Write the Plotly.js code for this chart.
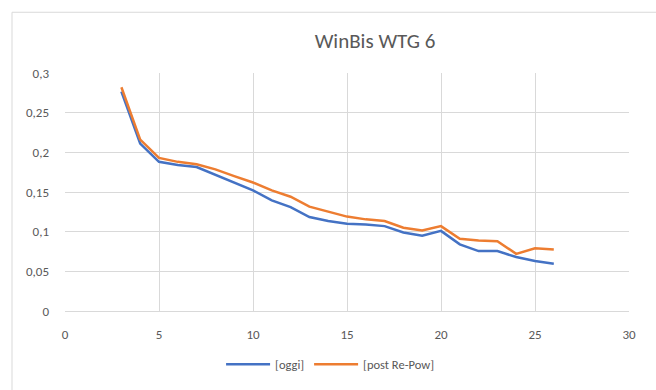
<!DOCTYPE html>
<html>
<head>
<meta charset="utf-8">
<script src="https://cdn.plot.ly/plotly-3.0.1.min.js"></script>
<style>html,body{margin:0;padding:0;background:#fff;}#chart{width:656px;height:390px;}</style>
</head>
<body>
<div id="chart"></div>
<script>
const windSpeed = [3,4,5,6,7,8,9,10,11,12,13,14,15,16,17,18,19,20,21,22,23,24,25,26];
const oggi = [0.2765,0.211,0.188,0.184,0.1815,0.172,0.162,0.152,0.1395,0.131,0.1185,0.1135,0.110,0.109,0.107,0.099,0.095,0.101,0.084,0.0755,0.0755,0.068,0.063,0.0595];
const postRePow = [0.282,0.216,0.193,0.188,0.185,0.1785,0.170,0.162,0.152,0.144,0.1315,0.125,0.119,0.1155,0.1135,0.105,0.1015,0.107,0.091,0.089,0.088,0.072,0.079,0.0775];
const seriesNames = ['[oggi]', '[post Re-Pow]'];
const xTicks = [0,5,10,15,20,25,30];
const yTicks = [0,0.05,0.1,0.15,0.2,0.25,0.3];
const yTickText = ['0','0,05','0,1','0,15','0,2','0,25','0,3'];

const font = 'Carlito, Lato, "Open Sans", sans-serif';
const traces = [
  {x: windSpeed, y: oggi, name: seriesNames[0], mode: 'lines', line: {color: '#4472C4', width: 2.5}},
  {x: windSpeed, y: postRePow, name: seriesNames[1], mode: 'lines', line: {color: '#ED7D31', width: 2.5}}
];
const layout = {
  width: 656, height: 390,
  margin: {l: 65, r: 27, t: 73, b: 78},
  paper_bgcolor: '#fff', plot_bgcolor: '#fff',
  separators: ',.',
  title: {text: 'WinBis WTG 6', font: {family: font, size: 21, color: '#595959'}, x: 375/656, xanchor: 'center', y: 1 - 41/390, yanchor: 'middle'},
  xaxis: {range: [0, 30], tickvals: xTicks, ticktext: xTicks.map(String), showgrid: true, gridcolor: '#d9d9d9', gridwidth: 1,
          zeroline: false, showline: true, linecolor: '#d9d9d9', mirror: false, ticks: '', ticklabelstandoff: 11,
          tickfont: {family: font, size: 13, color: '#595959'}, fixedrange: true},
  yaxis: {range: [0, 0.3], tickvals: yTicks, ticktext: yTickText, showgrid: true, gridcolor: '#d9d9d9', gridwidth: 1,
          zeroline: false, showline: false, ticks: '', ticklabelstandoff: 15,
          tickfont: {family: font, size: 13, color: '#595959'}, fixedrange: true},
  showlegend: true,
  legend: {orientation: 'h', x: 0.47, xanchor: 'center', y: -0.22, yanchor: 'middle',
           font: {family: font, size: 12.5, color: '#595959'}, itemwidth: 44, tracegroupgap: 0},
  shapes: [{type: 'rect', xref: 'paper', yref: 'paper', x0: (12-65)/564, x1: (700-65)/564, y0: (312-420)/239, y1: (312-12)/239,
            line: {color: '#d9d9d9', width: 1}, fillcolor: 'rgba(0,0,0,0)', layer: 'below'}]
};
Plotly.newPlot('chart', traces, layout, {displayModeBar: false, staticPlot: true});
</script>
</body>
</html>
